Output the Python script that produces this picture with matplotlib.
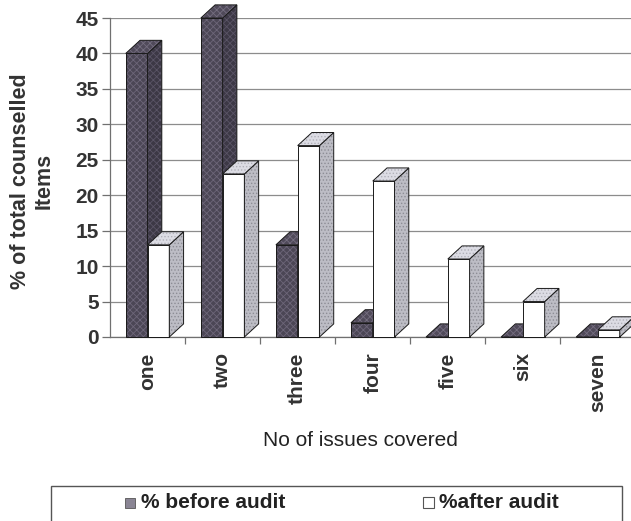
"""
Counselling coverage before and after the audit, drawn as 3-D style columns
"""
import matplotlib
matplotlib.use('Agg')
import matplotlib.pyplot as plt
from matplotlib.patches import Polygon, Rectangle

plt.rcParams['font.family'] = ['Liberation Sans', 'DejaVu Sans']
plt.rcParams['hatch.linewidth'] = 0.6

categories = ['one', 'two', 'three', 'four', 'five', 'six', 'seven']
before_audit = [40, 45, 13, 2, 0, 0, 0]
after_audit = [13, 23, 27, 22, 11, 5, 1]
y_ticks = [0, 5, 10, 15, 20, 25, 30, 35, 40, 45]

BAR_W = 0.29
DEPTH_X = 0.19
DEPTH_Y = 1.85

# (fill, dither hatch, dither colour) for front, side and top faces
BEFORE_FACES = [('#4b4655', 'xxxxx', '#6d6679'),
                ('#3c3845', 'xxxxx', '#5a5466'),
                ('#504a5a', 'xxxxx', '#756e80')]
AFTER_FACES = [('#ffffff', None, None),
               ('#bdbdc5', '.....', '#8d8d95'),
               ('#dcdce4', '.....', '#b0b0b8')]


def column3d(ax, x0, h, faces):
    """Front face, right side and top of one pseudo 3-D column"""
    w, dx, dy = BAR_W, DEPTH_X, DEPTH_Y
    shapes = [
        [(x0, 0), (x0 + w, 0), (x0 + w, h), (x0, h)],
        [(x0 + w, 0), (x0 + w + dx, dy), (x0 + w + dx, h + dy), (x0 + w, h)],
        [(x0, h), (x0 + dx, h + dy), (x0 + w + dx, h + dy), (x0 + w, h)],
    ]
    for pts, (fill, hatch, dither) in zip(shapes, faces):
        ax.add_patch(Polygon(pts, closed=True, facecolor=fill, edgecolor='none',
                             clip_on=False, zorder=3))
        if hatch:
            ax.add_patch(Polygon(pts, closed=True, facecolor='none', edgecolor=dither,
                                 hatch=hatch, linewidth=0, clip_on=False, zorder=3))
        ax.add_patch(Polygon(pts, closed=True, facecolor='none', edgecolor='#1a1a1a',
                             linewidth=0.7, clip_on=False, zorder=3))


fig = plt.figure(figsize=(6.31, 5.21), dpi=100)
W, H = 631, 521
ax = fig.add_axes([110 / W, (H - 337) / H, (W - 110) / W, (337 - 18) / H])

for i, (b, a) in enumerate(zip(before_audit, after_audit)):
    column3d(ax, i - BAR_W, b, BEFORE_FACES)
    column3d(ax, i, a, AFTER_FACES)

ax.set_xlim(-0.5, 6.44)
ax.set_ylim(0, 45)

ax.set_yticks(y_ticks)
ax.set_yticklabels([str(t) for t in y_ticks], fontsize=15, fontweight='bold',
                   color='#333333')
ax.yaxis.grid(True, color='#8c8c8c', linewidth=0.9)
ax.set_axisbelow(True)
ax.tick_params(axis='y', length=6, width=0.9, color='#707070', pad=2)

ax.set_xticks(range(len(categories)))
ax.set_xticklabels(categories, rotation=90, fontsize=15, fontweight='bold', va='top',
                   color='#333333')
ax.tick_params(axis='x', which='major', length=0, pad=11)
ax.set_xticks([i + 0.5 for i in range(len(categories) - 1)], minor=True)
ax.tick_params(axis='x', which='minor', length=5, width=0.9, color='#707070')

for side in ['top', 'right']:
    ax.spines[side].set_visible(False)
for side in ['left', 'bottom']:
    ax.spines[side].set_color('#707070')
    ax.spines[side].set_linewidth(0.9)

fig.text(32 / W, 1 - 181 / H, '% of total counselled\nItems', rotation=90,
         ha='center', va='center', fontsize=15.5, fontweight='bold', color='#333333',
         multialignment='center', linespacing=1.15)
fig.text(360 / W, 1 - 440 / H, 'No of issues covered', ha='center', va='center',
         fontsize=15, color='#222222')

# legend box along the bottom edge
fig.patches.append(Rectangle((51 / W, -0.05), (622 - 51) / W, 0.05 + (H - 486) / H,
                             transform=fig.transFigure, facecolor='white',
                             edgecolor='#555555', linewidth=1.0))
fig.patches.append(Rectangle((125 / W, 1 - 508 / H), 10 / W, 10 / H,
                             transform=fig.transFigure, facecolor='#8a8594',
                             edgecolor='#555555', linewidth=0.6))
fig.patches.append(Rectangle((423 / W, 1 - 508 / H), 11 / W, 11 / H,
                             transform=fig.transFigure, facecolor='white',
                             edgecolor='#555555', linewidth=0.8))
fig.text(141 / W, 1 - 503 / H, '% before audit', ha='left', va='center',
         fontsize=15, fontweight='bold', color='#222222')
fig.text(439 / W, 1 - 503 / H, '%after audit', ha='left', va='center',
         fontsize=15, fontweight='bold', color='#222222')

fig.savefig('out.png', dpi=100, facecolor='white')
